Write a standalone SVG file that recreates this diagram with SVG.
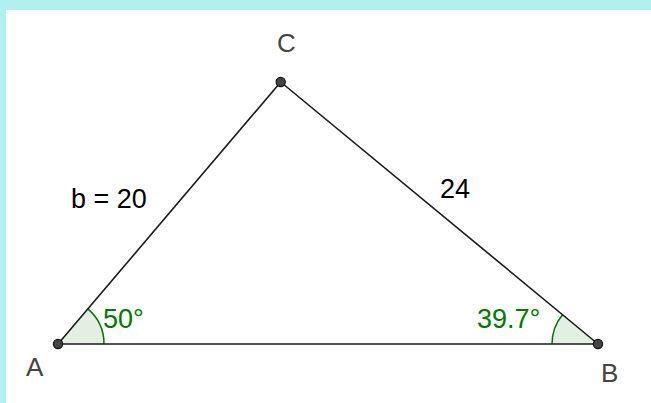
<svg xmlns="http://www.w3.org/2000/svg" width="651" height="403" viewBox="0 0 651 403">
<style>
.lbl{font-family:"Liberation Sans",Arial,sans-serif;font-size:26px;fill:#444}
.val{font-family:"Liberation Sans",Arial,sans-serif;font-size:27px;fill:#000}
.ang{font-family:"Liberation Sans",Arial,sans-serif;font-size:27px;fill:#007800}
.seg{stroke:#1a1a1a;stroke-width:1.6;fill:none}
.sector{fill:#e4efe4;stroke:none}
.arc{fill:none;stroke:#007800;stroke-width:1.5}
.pt{fill:#444;stroke:#111;stroke-width:1.2}
</style>
<rect x="0" y="0" width="651" height="403" fill="#b2efef"/>
<rect x="6" y="10" width="645" height="393" fill="#ffffff"/>
<g id="angleA">
<path class="sector" d="M58,344 L104,344 A46,46 0 0 0 87.8,308.9 Z"/>
<path class="arc" d="M104,344 A46,46 0 0 0 87.8,308.9"/>
<text class="ang" x="103" y="328">50°</text>
</g>
<g id="angleB">
<path class="sector" d="M598,344 L552,344 A46,46 0 0 1 562.5,314.7 Z"/>
<path class="arc" d="M552,344 A46,46 0 0 1 562.5,314.7"/>
<text class="ang" x="477" y="328">39.7°</text>
</g>
<g id="connectors">
<line class="seg" x1="58" y1="344" x2="598" y2="344"/>
<line class="seg" x1="58" y1="344" x2="280.7" y2="82"/>
<line class="seg" x1="280.7" y1="82" x2="598" y2="344"/>
</g>
<g id="labelb"><text class="val" x="71" y="208">b = 20</text></g>
<g id="labela"><text class="val" x="440" y="198">24</text></g>
<g id="A"><circle class="pt" cx="58" cy="344" r="4.6"/><text class="lbl" x="26" y="376">A</text></g>
<g id="B"><circle class="pt" cx="598" cy="344" r="4.6"/><text class="lbl" x="601" y="382">B</text></g>
<g id="C"><circle class="pt" cx="280.7" cy="82" r="4.6"/><text class="lbl" x="277" y="52">C</text></g>
</svg>
